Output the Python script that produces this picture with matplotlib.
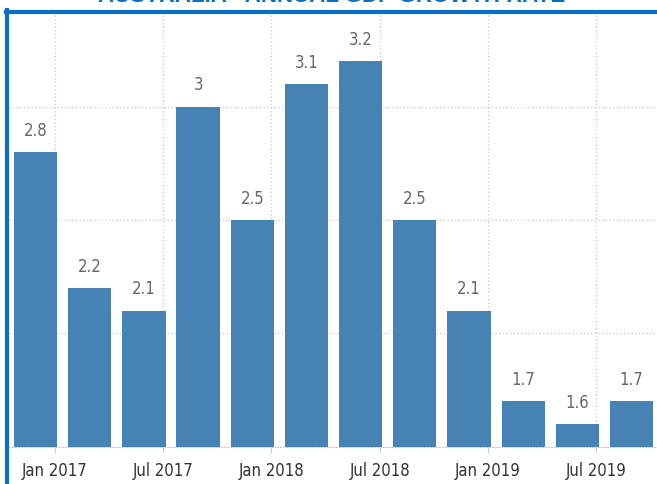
import numpy as np
import matplotlib.pyplot as plt
from matplotlib.lines import Line2D

plt.rcParams['font.family'] = ['DejaVu Sans']
plt.rcParams['font.stretch'] = 'condensed'

# quarterly annual GDP growth, Australia
values = [2.8, 2.2, 2.1, 3.0, 2.5, 3.1, 3.2, 2.5, 2.1, 1.7, 1.6, 1.7]
value_labels = ["2.8", "2.2", "2.1", "3", "2.5", "3.1", "3.2", "2.5", "2.1", "1.7", "1.6", "1.7"]
tick_labels = ["Jan 2017", "Jul 2017", "Jan 2018", "Jul 2018", "Jan 2019", "Jul 2019"]
tick_bar_index = [0, 2, 4, 6, 8, 10]

W, H = 657, 484
fig = plt.figure(figsize=(W / 100, H / 100), dpi=100)
ax = fig.add_axes([9 / W, 1 - 446.7 / H, (W - 9) / W, (446.7 - 13) / H])

x = np.arange(len(values))
bars = ax.bar(x, values, width=0.8, color='#4682B4', zorder=3)
for xi, v, lab in zip(x, values, value_labels):
    ax.text(xi, v + 0.055, lab, ha='center', va='bottom', fontsize=12, color='#666666',
            fontstretch='condensed')

ax.set_ylim(1.5, 3.414)
ax.set_xlim(-0.49, 11.47)

ticks = [i + 0.35 for i in tick_bar_index]
ax.set_xticks(ticks)
ax.set_xticklabels(tick_labels, fontsize=12, color='#333333', fontstretch='condensed')
ax.tick_params(axis='x', length=4, color='#cccccc', pad=7)
ax.set_yticks([2.0, 2.5, 3.0])
ax.tick_params(axis='y', left=False, labelleft=False)

ax.grid(True, linestyle=':', color='#cccccc', linewidth=1, zorder=0)
for s in ['top', 'right', 'left']:
    ax.spines[s].set_visible(False)
ax.spines['bottom'].set_linestyle(':')
ax.spines['bottom'].set_color('#cccccc')

# frame and title
blue = '#0a6fc2'
fig.add_artist(Line2D([7 / W, 7 / W], [0, 1 - 10 / H], color=blue, linewidth=3, transform=fig.transFigure))
fig.add_artist(Line2D([5.5 / W, 1], [1 - 12 / H, 1 - 12 / H], color=blue, linewidth=3, transform=fig.transFigure))
fig.text(0.505, 1 + 3 / H, "AUSTRALIA - ANNUAL GDP GROWTH RATE", ha='center', va='center',
         fontsize=16, fontweight='bold', color=blue, family=['Liberation Sans', 'DejaVu Sans'])

fig.savefig('out.png', dpi=100)
